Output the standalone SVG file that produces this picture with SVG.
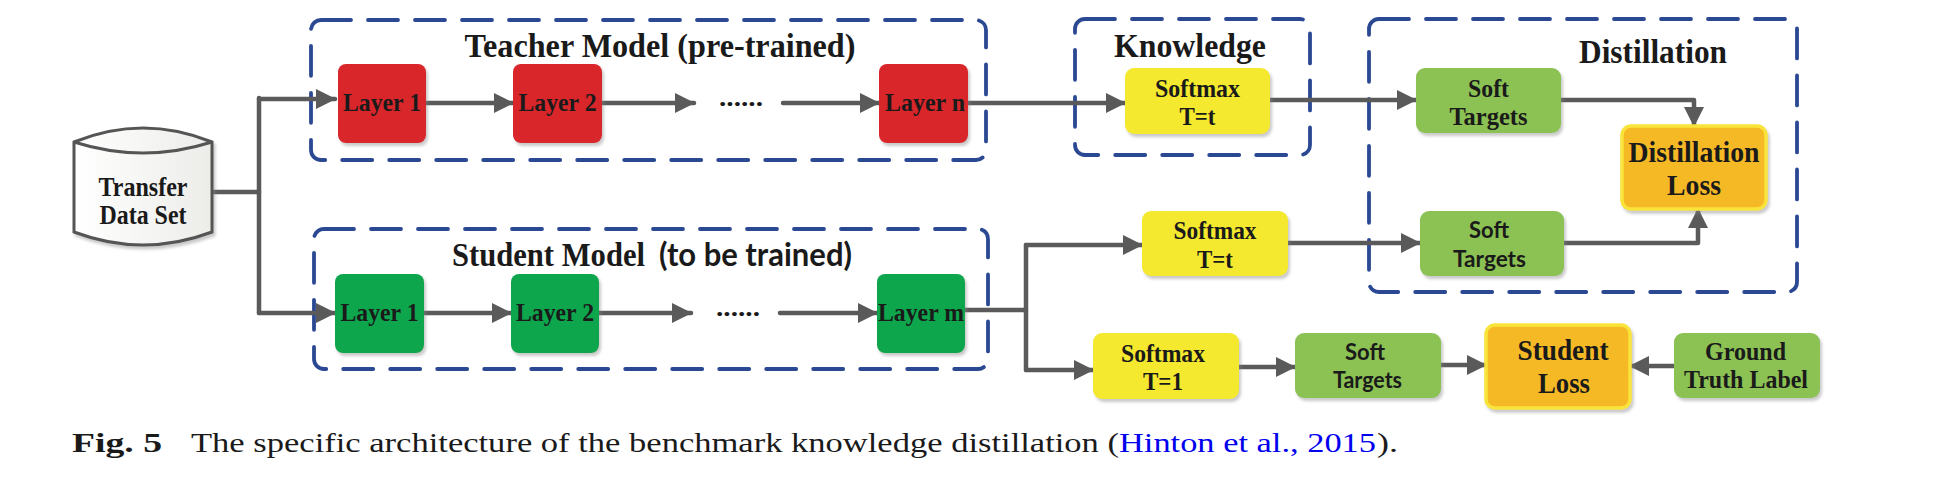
<svg xmlns="http://www.w3.org/2000/svg" width="1954" height="482" viewBox="0 0 1954 482">
<style>
.bg{fill:#ffffff}
.dash{fill:none;stroke:#2b4893;stroke-width:3.8;stroke-dasharray:30 17;stroke-linecap:round}
.title{font-family:"Liberation Serif","Times New Roman",serif;font-weight:bold;font-size:34px;fill:#1a1a1a}
.titlesans{font-family:Lato,"Liberation Sans",sans-serif;font-weight:bold;font-size:32px;fill:#1a1a1a}
.t{font-family:"Liberation Serif","Times New Roman",serif;font-weight:bold;font-size:26px;fill:#1a1a1a;text-anchor:middle}
.ts{font-family:Lato,"Liberation Sans",sans-serif;font-weight:bold;font-size:23px;fill:#1a1a1a;text-anchor:middle}
.tb{font-family:"Liberation Serif","Times New Roman",serif;font-weight:bold;font-size:30px;fill:#1a1a1a;text-anchor:middle}
.red{fill:#d9252b}
.dgreen{fill:#07a64d}
.yellow{fill:#f4e92e}
.lgreen{fill:#8cc153}
.loss{fill:#f6b928;stroke:#f9e43a;stroke-width:3.5}
.edge{fill:none;stroke:#5a5a5a;stroke-width:4.5;stroke-linecap:round;stroke-linejoin:round}
.cap{font-family:"Liberation Serif","Times New Roman",serif;font-size:28px;fill:#1a1a1a}
</style>
<defs>
<marker id="ah" markerUnits="userSpaceOnUse" markerWidth="20" markerHeight="20" refX="19" refY="10" orient="auto">
<path d="M0,0 L20,10 L0,20 z" fill="#5a5a5a"/>
</marker>
<filter id="sh" x="-10%" y="-10%" width="125%" height="130%">
<feDropShadow dx="2" dy="3" stdDeviation="1.5" flood-color="#888" flood-opacity="0.45"/>
</filter>
<linearGradient id="cyl" x1="0" y1="0" x2="1" y2="0">
<stop offset="0" stop-color="#ffffff"/>
<stop offset="1" stop-color="#ecece9"/>
</linearGradient>
</defs>
<rect class="bg" x="0" y="0" width="1954" height="482"/>

<g id="groups">
<rect id="teacher-box" class="dash" x="311" y="20" width="675" height="140" rx="10"/>
<rect id="student-box" class="dash" x="314" y="229" width="674" height="140" rx="10"/>
<rect id="knowledge-box" class="dash" x="1075" y="19" width="235" height="136" rx="10"/>
<rect id="distillation-box" class="dash" x="1369" y="19" width="428" height="273" rx="10"/>
<text class="title" x="660" y="57" text-anchor="middle" textLength="391" lengthAdjust="spacingAndGlyphs">Teacher Model (pre-trained)</text>
<text class="title" x="452" y="266" textLength="193" lengthAdjust="spacingAndGlyphs">Student Model</text>
<text class="titlesans" x="659" y="266" textLength="193" lengthAdjust="spacingAndGlyphs">(to be trained)</text>
<text class="title" x="1190" y="57" text-anchor="middle" textLength="152" lengthAdjust="spacingAndGlyphs">Knowledge</text>
<text class="title" x="1653" y="63" text-anchor="middle" textLength="148" lengthAdjust="spacingAndGlyphs">Distillation</text>
</g>

<g id="connectors">
<path class="edge" d="M212,192 L259,192"/>
<path class="edge" d="M259,98 L259,313"/>
<path class="edge" d="M259,99 L335,99" marker-end="url(#ah)"/>
<path class="edge" d="M259,313 L335,313" marker-end="url(#ah)"/>
<path class="edge" d="M426,103 L513,103" marker-end="url(#ah)"/>
<path class="edge" d="M602,103 L694,103" marker-end="url(#ah)"/>
<path class="edge" d="M783,103 L879,103" marker-end="url(#ah)"/>
<path class="edge" d="M424,313 L511,313" marker-end="url(#ah)"/>
<path class="edge" d="M599,313 L691,313" marker-end="url(#ah)"/>
<path class="edge" d="M780,313 L877,313" marker-end="url(#ah)"/>
<path class="edge" d="M968,103 L1125,103" marker-end="url(#ah)"/>
<path class="edge" d="M1270,100 L1416,100" marker-end="url(#ah)"/>
<path class="edge" d="M1561,100 L1694,100 L1694,126" marker-end="url(#ah)"/>
<path class="edge" d="M965,310 L1026,310"/>
<path class="edge" d="M1026,245 L1026,370"/>
<path class="edge" d="M1026,245 L1142,245" marker-end="url(#ah)"/>
<path class="edge" d="M1026,370 L1093,370" marker-end="url(#ah)"/>
<path class="edge" d="M1288,243 L1420,243" marker-end="url(#ah)"/>
<path class="edge" d="M1564,243 L1698,243 L1698,209" marker-end="url(#ah)"/>
<path class="edge" d="M1239,367 L1295,367" marker-end="url(#ah)"/>
<path class="edge" d="M1441,365 L1486,365" marker-end="url(#ah)"/>
<path class="edge" d="M1674,366 L1630,366" marker-end="url(#ah)"/>
</g>

<g id="transfer-data-set">
<path d="M74,142 Q143,114 212,142 L212,232 Q143,258 74,232 Z" fill="url(#cyl)" stroke="#555" stroke-width="3" filter="url(#sh)"/>
<path d="M74,142 Q143,164 212,142" fill="none" stroke="#555" stroke-width="3"/>
<text class="t" x="143" y="196" style="font-size:27px" textLength="89" lengthAdjust="spacingAndGlyphs">Transfer</text>
<text class="t" x="143" y="224" style="font-size:27px" textLength="87" lengthAdjust="spacingAndGlyphs">Data Set</text>
</g>

<g id="teacher-layer1">
<rect class="red" x="338" y="64" width="88" height="79" rx="8" filter="url(#sh)"/>
<text class="t" x="382" y="111" textLength="78" lengthAdjust="spacingAndGlyphs">Layer 1</text>
</g>
<g id="teacher-layer2">
<rect class="red" x="513" y="64" width="89" height="79" rx="8" filter="url(#sh)"/>
<text class="t" x="557.5" y="111" textLength="78" lengthAdjust="spacingAndGlyphs">Layer 2</text>
</g>
<g id="teacher-ellipsis">
<text class="t" x="741" y="106" textLength="44" lengthAdjust="spacingAndGlyphs">......</text>
</g>
<g id="teacher-layern">
<rect class="red" x="879" y="64" width="89" height="79" rx="8" filter="url(#sh)"/>
<text class="t" x="925" y="111" textLength="80" lengthAdjust="spacingAndGlyphs">Layer n</text>
</g>

<g id="student-layer1">
<rect class="dgreen" x="335" y="274" width="89" height="79" rx="8" filter="url(#sh)"/>
<text class="t" x="379.5" y="321" textLength="78" lengthAdjust="spacingAndGlyphs">Layer 1</text>
</g>
<g id="student-layer2">
<rect class="dgreen" x="511" y="274" width="88" height="79" rx="8" filter="url(#sh)"/>
<text class="t" x="555" y="321" textLength="78" lengthAdjust="spacingAndGlyphs">Layer 2</text>
</g>
<g id="student-ellipsis">
<text class="t" x="738" y="316" textLength="44" lengthAdjust="spacingAndGlyphs">......</text>
</g>
<g id="student-layerm">
<rect class="dgreen" x="877" y="274" width="88" height="79" rx="8" filter="url(#sh)"/>
<text class="t" x="921" y="321" textLength="86" lengthAdjust="spacingAndGlyphs">Layer m</text>
</g>

<g id="knowledge-softmax">
<rect class="yellow" x="1125" y="68" width="145" height="66" rx="9" filter="url(#sh)"/>
<text class="t" x="1197.5" y="97" textLength="85" lengthAdjust="spacingAndGlyphs">Softmax</text>
<text class="t" x="1197.5" y="125" textLength="36" lengthAdjust="spacingAndGlyphs">T=t</text>
</g>
<g id="soft-targets-teacher">
<rect class="lgreen" x="1416" y="68" width="145" height="65" rx="9" filter="url(#sh)"/>
<text class="t" x="1488.5" y="97" textLength="41" lengthAdjust="spacingAndGlyphs">Soft</text>
<text class="t" x="1488.5" y="125" textLength="78" lengthAdjust="spacingAndGlyphs">Targets</text>
</g>
<g id="distillation-loss">
<rect class="loss" x="1622" y="126" width="144" height="83" rx="9" filter="url(#sh)"/>
<text class="tb" x="1694" y="162" textLength="131" lengthAdjust="spacingAndGlyphs">Distillation</text>
<text class="tb" x="1694" y="195" textLength="54" lengthAdjust="spacingAndGlyphs">Loss</text>
</g>
<g id="student-softmax-t">
<rect class="yellow" x="1142" y="211" width="146" height="65" rx="9" filter="url(#sh)"/>
<text class="t" x="1215" y="239" textLength="83" lengthAdjust="spacingAndGlyphs">Softmax</text>
<text class="t" x="1215" y="268" textLength="36" lengthAdjust="spacingAndGlyphs">T=t</text>
</g>
<g id="soft-targets-student">
<rect class="lgreen" x="1420" y="211" width="144" height="65" rx="9" filter="url(#sh)"/>
<text class="ts" x="1489" y="238" textLength="40" lengthAdjust="spacingAndGlyphs">Soft</text>
<text class="ts" x="1489.5" y="267" textLength="73" lengthAdjust="spacingAndGlyphs">Targets</text>
</g>
<g id="softmax-t1">
<rect class="yellow" x="1093" y="333" width="146" height="66" rx="9" filter="url(#sh)"/>
<text class="t" x="1163" y="362" textLength="84" lengthAdjust="spacingAndGlyphs">Softmax</text>
<text class="t" x="1163" y="390" textLength="40" lengthAdjust="spacingAndGlyphs">T=1</text>
</g>
<g id="soft-targets-hard">
<rect class="lgreen" x="1295" y="333" width="146" height="65" rx="9" filter="url(#sh)"/>
<text class="ts" x="1365" y="360" textLength="40" lengthAdjust="spacingAndGlyphs">Soft</text>
<text class="ts" x="1367.5" y="388" textLength="69" lengthAdjust="spacingAndGlyphs">Targets</text>
</g>
<g id="student-loss">
<rect class="loss" x="1486" y="325" width="144" height="83" rx="9" filter="url(#sh)"/>
<text class="tb" x="1563" y="360" textLength="91" lengthAdjust="spacingAndGlyphs">Student</text>
<text class="tb" x="1564" y="393" textLength="52" lengthAdjust="spacingAndGlyphs">Loss</text>
</g>
<g id="ground-truth-label">
<rect class="lgreen" x="1674" y="333" width="146" height="65" rx="9" filter="url(#sh)"/>
<text class="t" x="1745.5" y="360" textLength="81" lengthAdjust="spacingAndGlyphs">Ground</text>
<text class="t" x="1746" y="388" textLength="124" lengthAdjust="spacingAndGlyphs">Truth Label</text>
</g>

<g id="caption">
<text class="cap" x="72" y="452" font-weight="bold" textLength="90" lengthAdjust="spacingAndGlyphs">Fig. 5</text>
<text class="cap" x="191" y="452" textLength="928" lengthAdjust="spacingAndGlyphs">The specific architecture of the benchmark knowledge distillation (</text>
<text class="cap" x="1119" y="452" style="fill:#0000ee" textLength="257" lengthAdjust="spacingAndGlyphs">Hinton et al., 2015</text>
<text class="cap" x="1377" y="452" textLength="21" lengthAdjust="spacingAndGlyphs">).</text>
</g>
</svg>
